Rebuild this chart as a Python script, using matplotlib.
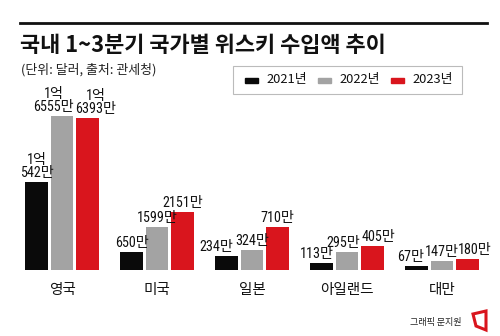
import matplotlib
matplotlib.use("Agg")
import matplotlib.pyplot as plt
from matplotlib.patches import Rectangle, Polygon
from matplotlib.lines import Line2D

plt.rcParams['font.family'] = ['Noto Sans CJK KR', 'DejaVu Sans']

# data (values in 만 달러; bar lengths as drawn in the graphic)
countries = ['영국', '미국', '일본', '아일랜드', '대만']
years = ['2021년', '2022년', '2023년']
labels_2021 = ['1억\n542만', '650만', '234만', '113만', '67만']
labels_2022 = ['1억\n6555만', '1599만', '324만', '295만', '147만']
labels_2023 = ['1억\n6393만', '2151만', '710만', '405만', '180만']
bar_2021 = [88, 18, 14, 7, 4]
bar_2022 = [154, 43, 20, 18, 9]
bar_2023 = [152, 58, 43, 24, 11]
colors = ['#0a0a0a', '#a3a3a3', '#d9151d']

# small horizontal nudges (in points) so neighbouring labels don't collide
nudge = [
    [0, 0, -7, -3, -4],
    [-6, 0, 0, -3, 0],
    [6, 0, 0, 4, 5],
]

W, H = 500, 336
fig = plt.figure(figsize=(W / 100, H / 100), dpi=100)


def fx(x):
    return x / W


def fy(y):
    return 1 - y / H


# plot area in pixels: x 20..487, baseline at y=270, top at y=90
ax = fig.add_axes([fx(20), fy(270), (487 - 20) / W, (270 - 90) / H])
ax.set_xlim(-0.442, 4.474)
ax.set_ylim(0, 180)
ax.axis('off')

width = 0.237
step = 0.268
num_font = ['Roboto Condensed', 'Noto Sans CJK KR']
series = [(bar_2021, labels_2021), (bar_2022, labels_2022), (bar_2023, labels_2023)]
for j, (vals, labs) in enumerate(series):
    xs = [i + (j - 1) * step for i in range(len(countries))]
    ax.bar(xs, vals, width=width, color=colors[j], zorder=2)
    for i, (x, v, lab) in enumerate(zip(xs, vals, labs)):
        ax.annotate(lab, (x, v), xytext=(nudge[j][i], 1.5), textcoords='offset points',
                    ha='center', va='bottom', fontsize=10.2, family=num_font,
                    linespacing=0.9, color='#111111')

for i, c in enumerate(countries):
    ax.text(i, -20, c, ha='center', va='center', fontsize=10.5, color='#111111')

# top rule and title
fig.add_artist(Line2D([fx(20), fx(487)], [fy(23), fy(23)], color='#111111', lw=2))
fig.text(fx(20), fy(46), '국내 1~3분기 국가별 위스키 수입액 추이', fontsize=15.8,
         fontweight='bold', va='center', ha='left', color='#111111')
fig.text(fx(21), fy(70), '(단위: 달러, 출처: 관세청)', fontsize=9.3,
         va='center', ha='left', color='#222222')

# legend box
fig.add_artist(Rectangle((fx(233), fy(94)), (462 - 233) / W, (94 - 66) / H,
                         transform=fig.transFigure, fill=False,
                         edgecolor='#bbbbbb', lw=0.8))
leg_x = [245, 318, 391]
for k, yr in enumerate(years):
    fig.add_artist(Rectangle((fx(leg_x[k]), fy(83)), 13 / W, 5 / H,
                             transform=fig.transFigure, color=colors[k]))
    fig.text(fx(leg_x[k] + 21), fy(80), yr, fontsize=9.3, va='center',
             ha='left', color='#111111')

# credit and logo
fig.text(fx(410), fy(323), '그래픽 문지원', fontsize=6.5, va='center', ha='left',
         color='#222222')
fig.add_artist(Polygon([(fx(473), fy(314)), (fx(486), fy(311)),
                        (fx(486), fy(330)), (fx(476), fy(326))],
                       closed=True, fill=False, edgecolor='#d9151d', lw=2.2,
                       transform=fig.transFigure))

fig.savefig('out.png', dpi=100)
